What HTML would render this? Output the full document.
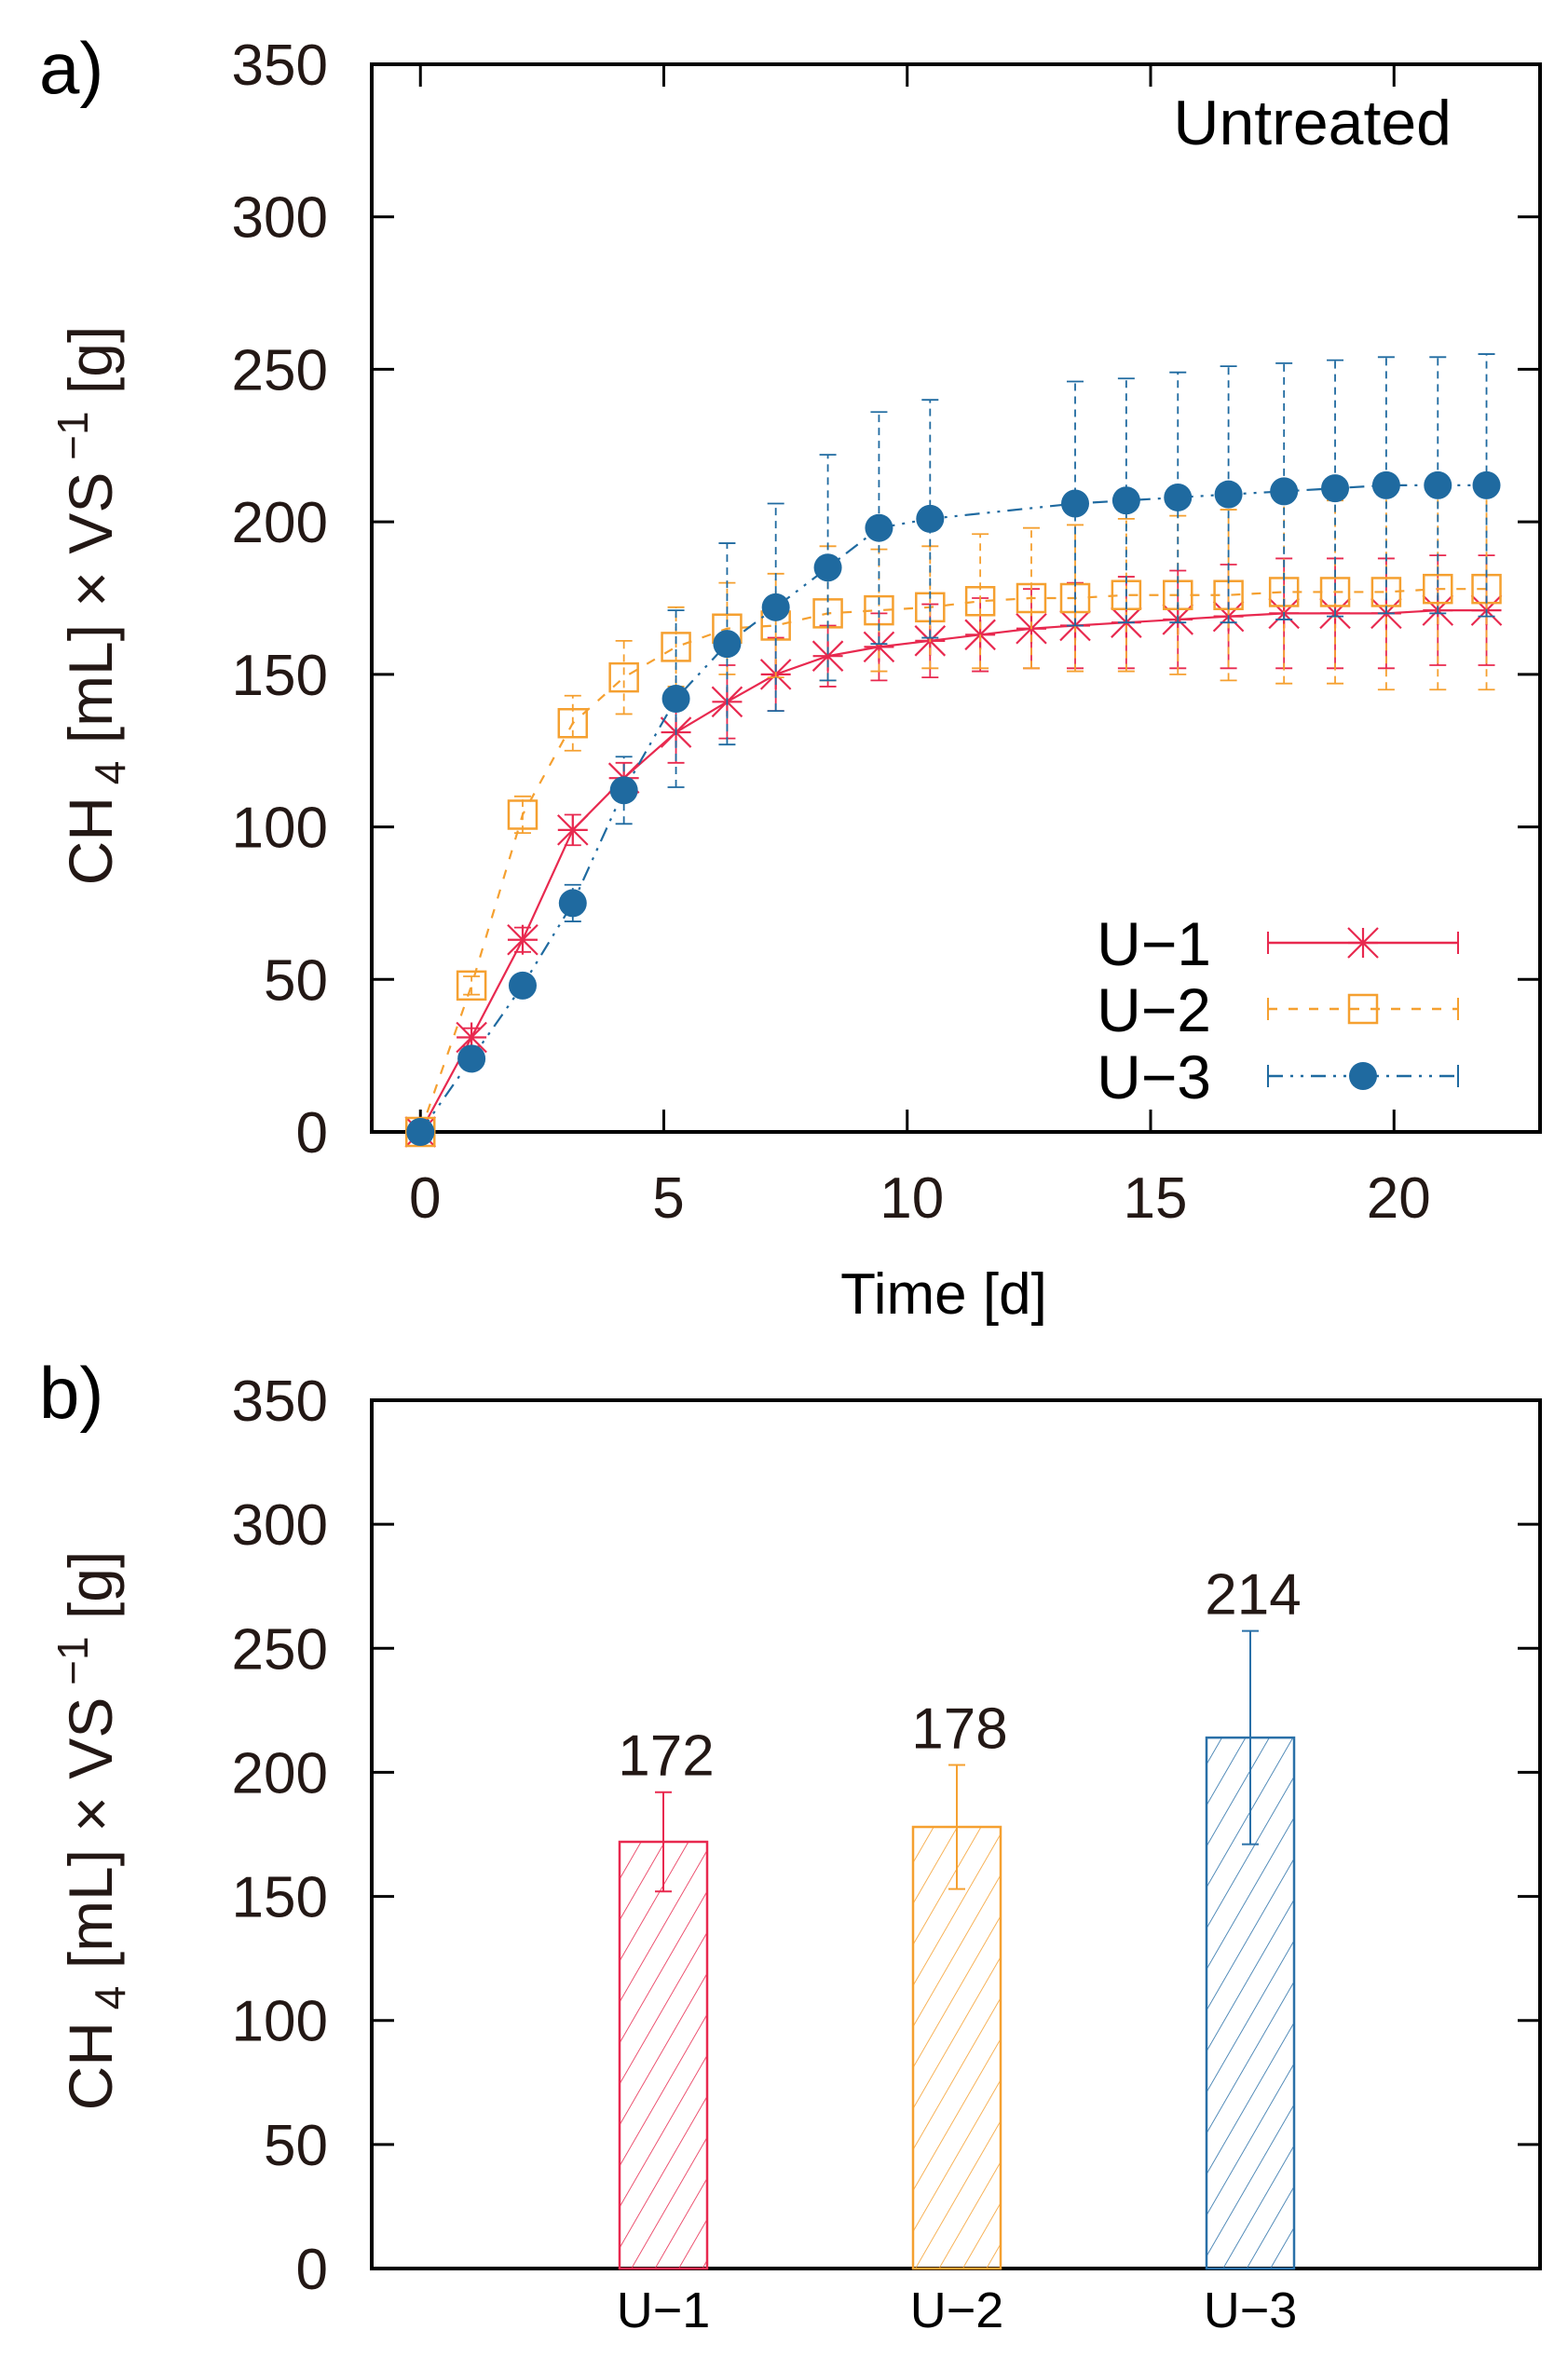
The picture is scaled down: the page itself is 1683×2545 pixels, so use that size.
<!DOCTYPE html>
<html><head><meta charset="utf-8"><style>
html,body{margin:0;padding:0;background:#fff;}
svg{display:block;font-family:"Liberation Sans",sans-serif;}
</style></head><body>
<svg id="fig" width="1683" height="2545" viewBox="0 0 1683 2545" xmlns="http://www.w3.org/2000/svg">
<defs>
<pattern id="hatchRed" patternUnits="userSpaceOnUse" width="22" height="22" patternTransform="rotate(30)"><line x1="0" y1="0" x2="0" y2="22" stroke="#e8294f" stroke-width="1.6"/></pattern>
<pattern id="hatchOrange" patternUnits="userSpaceOnUse" width="22" height="22" patternTransform="rotate(30)"><line x1="0" y1="0" x2="0" y2="22" stroke="#f5a030" stroke-width="1.6"/></pattern>
<pattern id="hatchBlue" patternUnits="userSpaceOnUse" width="22" height="22" patternTransform="rotate(30)"><line x1="0" y1="0" x2="0" y2="22" stroke="#2a70a8" stroke-width="1.6"/></pattern>
</defs>
<g id="pa"></g>
<g id="pb"></g>
</svg>
<script>
// Panel a data
const days1 = [0,1.05,2.1,3.13,4.18,5.25,6.3,7.3,8.37,9.42,10.47,11.5,12.55,13.45,14.5,15.56,16.6,17.74,18.79,19.84,20.9,21.9];
const u1Vals = [0,31,63,99,116,131,141,150,156,159,161,163,165,166,167,168,169,170,170,170,171,171];
const u1Errs = [0,3,4,5,5,10,12,12,10,11,12,12,13,14,15,16,17,18,18,18,18,18];
const days2 = [0,1.05,2.1,3.13,4.18,5.25,6.3,7.3,8.37,9.42,10.47,11.5,12.55,13.45,14.5,15.56,16.6,17.74,18.79,19.84,20.9,21.9];
const u2Vals = [0,48,104,134,149,159,165,166,170,171,172,174,175,175,176,176,176,177,177,177,178,178];
const u2Errs = [0,3,6,9,12,13,15,17,22,20,20,22,23,24,25,26,28,30,30,32,33,33];
const days3 = [0,1.05,2.1,3.13,4.18,5.25,6.3,7.3,8.37,9.42,10.47,13.45,14.5,15.56,16.6,17.74,18.79,19.84,20.9,21.9];
const u3Vals = [0,24,48,75,112,142,160,172,185,198,201,206,207,208,209,210,211,212,212,212];
const u3Errs = [0,2,2,6,11,29,33,34,37,38,39,40,40,41,42,42,42,42,42,43];
const xTicksA = [0,5,10,15,20];
const yTicks = [0,50,100,150,200,250,300,350];
// Panel b data
const barCats = ["U\u22121","U\u22122","U\u22123"];
const barVals = [172,178,214];
const barErrs = [20,25,43];

const NS="http://www.w3.org/2000/svg";
function mk(parent,tag,attrs,text){const e=document.createElementNS(NS,tag);for(const k in attrs)e.setAttribute(k,attrs[k]);if(text!==undefined)e.textContent=text;parent.appendChild(e);return e;}
const TXT="#231815";
const L=399,R=1653;
const aTop=69,aBot=1215;
const bTop=1503,bBot=2435;
const xA=d=>L+(d+1)/24*(R-L);
const yA=v=>aBot-v/350*(aBot-aTop);
const yB=v=>bBot-v/350*(bBot-bTop);

const pa=document.getElementById('pa');
const pb=document.getElementById('pb');

function yLabel(g,cy){
  const t=mk(g,'text',{transform:`translate(120,${cy}) rotate(-90)`,'text-anchor':'middle','font-size':66,fill:TXT});
  
  
  t.innerHTML='CH<tspan font-size="46" dy="14"> 4</tspan><tspan dy="-14"> [mL]  ×  VS</tspan><tspan font-size="46" dy="-26"> −1</tspan><tspan dy="26"> [g]</tspan>';
}
function yAxis(g,yf,top,bot){
  yTicks.forEach(v=>{
    const y=yf(v);
    const t1=mk(g,'line',{x1:L,y1:y,x2:L+24,y2:y,stroke:'#000','stroke-width':3});
    
    
    mk(g,'line',{x1:R,y1:y,x2:R-24,y2:y,stroke:'#000','stroke-width':3});
    const lb=mk(g,'text',{x:352,y:y+22,'text-anchor':'end','font-size':62,fill:TXT},String(v));
    
    
  });
  const fr=mk(g,'rect',{x:L,y:top,width:R-L,height:bot-top,fill:'none',stroke:'#000','stroke-width':4});
  
  
}

// ---------- Panel a ----------
const la=mk(pa,'text',{x:42,y:100,'font-size':78,fill:'#000'},'a)');


yAxis(pa,yA,aTop,aBot);
xTicksA.forEach(d=>{
  const x=xA(d);
  const t=mk(pa,'line',{x1:x,y1:aBot,x2:x,y2:aBot-24,stroke:'#000','stroke-width':3});
  
  
  mk(pa,'line',{x1:x,y1:aTop,x2:x,y2:aTop+24,stroke:'#000','stroke-width':3});
  const lb=mk(pa,'text',{x:x+5,y:1307,'text-anchor':'middle','font-size':62,fill:TXT},String(d));
  
  
});
const xt=mk(pa,'text',{x:1013,y:1410,'text-anchor':'middle','font-size':62,fill:'#000'},'Time [d]');


yLabel(pa,650);
const ut=mk(pa,'text',{x:1558,y:155,'text-anchor':'end','font-size':68,fill:'#000'},'Untreated');



function marker(g,kind,x,y,color){
  if(kind==='star'){
    const s=16;
    mk(g,'line',{x1:x-s,y1:y,x2:x+s,y2:y,stroke:color,'stroke-width':2.2});
    mk(g,'line',{x1:x,y1:y-s,x2:x,y2:y+s,stroke:color,'stroke-width':2.2});
    mk(g,'line',{x1:x-s,y1:y-s,x2:x+s,y2:y+s,stroke:color,'stroke-width':2.2});
    mk(g,'line',{x1:x-s,y1:y+s,x2:x+s,y2:y-s,stroke:color,'stroke-width':2.2});
  }else if(kind==='square'){
    mk(g,'rect',{x:x-15,y:y-15,width:30,height:30,fill:'none',stroke:color,'stroke-width':2.5});
  }else{
    mk(g,'circle',{cx:x,cy:y,r:15,fill:color});
  }
}
const seriesA=[
  {name:'series-u1',label:'U\u22121',days:days1,vals:u1Vals,errs:u1Errs,color:'#e8294f',dash:'none',kind:'star',ly:1012},
  {name:'series-u2',label:'U\u22122',days:days2,vals:u2Vals,errs:u2Errs,color:'#f5a030',dash:'10,12',kind:'square',ly:1083},
  {name:'series-u3',label:'U\u22123',days:days3,vals:u3Vals,errs:u3Errs,color:'#1f6aa0',dash:'16,8,3,8,3,8',kind:'circle',ly:1155}
];
seriesA.forEach(s=>{
  const g=mk(pa,'g',{});
  
  
  const pts=s.days.map((d,i)=>xA(d)+','+yA(s.vals[i])).join(' ');
  const line=mk(g,'polyline',{points:pts,fill:'none',stroke:s.color,'stroke-width':2.2,'stroke-dasharray':s.dash});
  
  
  s.days.forEach((d,i)=>{
    const x=xA(d),y1=yA(s.vals[i]-s.errs[i]),y2=yA(s.vals[i]+s.errs[i]);
    const eb=mk(g,'g',{stroke:s.color,'stroke-width':1.8,'stroke-dasharray':s.dash==='none'?'none':'8,6'});
    
    
    mk(eb,'line',{x1:x,y1:y1,x2:x,y2:y2});
    mk(eb,'line',{x1:x-9,y1:y1,x2:x+9,y2:y1,'stroke-dasharray':'none'});
    mk(eb,'line',{x1:x-9,y1:y2,x2:x+9,y2:y2,'stroke-dasharray':'none'});
    const mg=mk(g,'g',{});
    
    
    marker(mg,s.kind,x,yA(s.vals[i]),s.color);
  });
  // legend
  const lg=mk(pa,'g',{});
  
  
  mk(lg,'text',{x:1300,y:s.ly+24,'text-anchor':'end','font-size':66,fill:'#000'},s.label);
  mk(lg,'line',{x1:1361,y1:s.ly,x2:1565,y2:s.ly,stroke:s.color,'stroke-width':2.5,'stroke-dasharray':s.dash});
  mk(lg,'line',{x1:1361,y1:s.ly-12,x2:1361,y2:s.ly+12,stroke:s.color,'stroke-width':2});
  mk(lg,'line',{x1:1565,y1:s.ly-12,x2:1565,y2:s.ly+12,stroke:s.color,'stroke-width':2});
  marker(lg,s.kind,1463,s.ly,s.color);
});

// ---------- Panel b ----------
const lbb=mk(pb,'text',{x:42,y:1522,'font-size':78,fill:'#000'},'b)');


yAxis(pb,yB,bTop,bBot);
yLabel(pb,1965);
const barColors=['#e8294f','#f5a030','#2a70a8'];
const hatches=['url(#hatchRed)','url(#hatchOrange)','url(#hatchBlue)'];
const xB=i=>712+i*315;
const bw=94;
barCats.forEach((c,i)=>{
  const x=xB(i),v=barVals[i],e=barErrs[i];
  const g=mk(pb,'g',{});
  
  
  mk(g,'rect',{x:x-bw/2,y:yB(v),width:bw,height:bBot-yB(v),fill:hatches[i],stroke:barColors[i],'stroke-width':2.5});
  const eg=mk(g,'g',{stroke:barColors[i],'stroke-width':2});
  
  
  mk(eg,'line',{x1:x,y1:yB(v-e),x2:x,y2:yB(v+e)});
  mk(eg,'line',{x1:x-9,y1:yB(v-e),x2:x+9,y2:yB(v-e)});
  mk(eg,'line',{x1:x-9,y1:yB(v+e),x2:x+9,y2:yB(v+e)});
  const vt=mk(pb,'text',{x:x+3,y:yB(v+e)-18,'text-anchor':'middle','font-size':62,fill:TXT},String(v));
  
  
  const ct=mk(pb,'text',{x:x,y:2498,'text-anchor':'middle','font-size':54,fill:'#000'},c);
  
  
});
</script>
</body></html>
